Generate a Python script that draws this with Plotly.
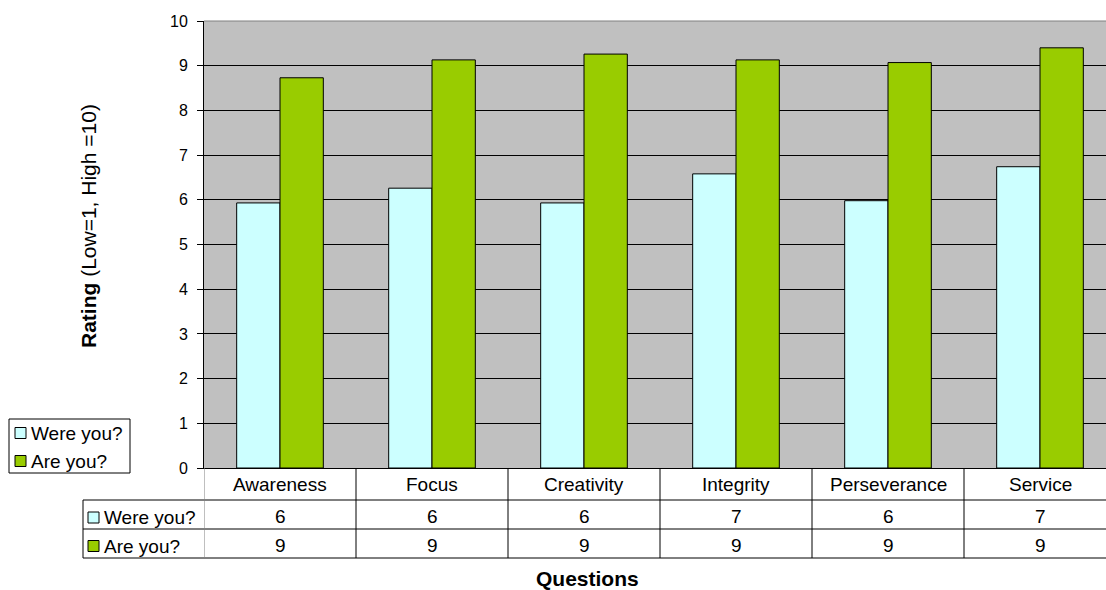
import plotly.graph_objects as go

# ---- data ----
categories = ["Awareness", "Focus", "Creativity", "Integrity", "Perseverance", "Service"]
series_names = ["Were you?", "Are you?"]
were_you = [5.93, 6.26, 5.93, 6.58, 5.98, 6.74]
are_you = [8.73, 9.13, 9.26, 9.13, 9.07, 9.40]
y_ticks = list(range(0, 11))

# ---- style ----
FONT = "Arial, Liberation Sans, sans-serif"
C_WERE = "#CCFFFF"
C_ARE = "#99CC00"
W, H = 1106, 590
L, T, B = 204, 21, 468          # plot area pixel edges (right edge is the page edge)
PW, PH = W - L, B - T
TXT = 19


def px(xp):
    return (xp - L) / PW


def py(yp):
    return (B - yp) / PH


def note(x, y, text, xref="paper", xanchor="center", size=TXT, **kw):
    return dict(x=x, y=y, xref=xref, yref="paper", text=text, showarrow=False,
                xanchor=xanchor, yanchor="middle",
                font=dict(size=size, color="black", family=FONT), **kw)


fig = go.Figure()
fig.add_trace(go.Bar(x=categories, y=were_you, name=series_names[0],
                     marker=dict(color=C_WERE, line=dict(color="black", width=1)),
                     showlegend=False))
fig.add_trace(go.Bar(x=categories, y=are_you, name=series_names[1],
                     marker=dict(color=C_ARE, line=dict(color="black", width=1)),
                     showlegend=False))

shapes = []
annotations = []

# top border of plot area
shapes.append(dict(type="line", xref="paper", yref="paper", x0=0, x1=1, y0=1, y1=1,
                   line=dict(color="#808080", width=1)))

# ---- data table ----
row_y = [468, 500, 529, 558]
x_left_tbl = 83
for yp in row_y[1:]:
    shapes.append(dict(type="line", xref="paper", yref="paper",
                       x0=px(x_left_tbl), x1=1, y0=py(yp), y1=py(yp),
                       line=dict(color="black", width=1)))
shapes.append(dict(type="line", xref="paper", yref="paper",
                   x0=px(x_left_tbl), x1=px(x_left_tbl), y0=py(500), y1=py(558),
                   line=dict(color="black", width=1)))
n = len(categories)
for i in range(n + 1):
    xv = i - 0.5
    shapes.append(dict(type="line", xref="x", yref="paper",
                       x0=xv, x1=xv, y0=py(468), y1=py(558),
                       line=dict(color="#808080" if i == 0 else "black", width=1)))

for i, c in enumerate(categories):
    annotations.append(note(i, py(484), c, xref="x"))
    annotations.append(note(i, py(516.5), str(int(round(were_you[i]))), xref="x"))
    annotations.append(note(i, py(545), str(int(round(are_you[i]))), xref="x"))

for name, col, yc in [(series_names[0], C_WERE, 517.5), (series_names[1], C_ARE, 546)]:
    shapes.append(dict(type="rect", xref="paper", yref="paper",
                       x0=px(88), x1=px(99), y0=py(yc - 5.5), y1=py(yc + 5.5),
                       fillcolor=col, line=dict(color="black", width=1)))
    annotations.append(note(px(102), py(yc), name, xanchor="left"))

# ---- legend box ----
shapes.append(dict(type="rect", xref="paper", yref="paper",
                   x0=px(9), x1=px(130), y0=py(419), y1=py(473),
                   fillcolor="white", line=dict(color="black", width=1)))
for name, col, yc in [(series_names[0], C_WERE, 433), (series_names[1], C_ARE, 461)]:
    shapes.append(dict(type="rect", xref="paper", yref="paper",
                       x0=px(15), x1=px(26), y0=py(yc - 5.5), y1=py(yc + 5.5),
                       fillcolor=col, line=dict(color="black", width=1)))
    annotations.append(note(px(29), py(yc), name, xanchor="left"))

# ---- axis titles ----
annotations.append(note(px(88), py(226), "<b>Rating</b> (Low=1, High =10)",
                        size=21, textangle=-90))
annotations.append(note(px(587), py(578), "<b>Questions</b>", size=21))

fig.update_layout(
    width=W, height=H,
    margin=dict(l=L, r=0, t=T, b=H - B, pad=0),
    paper_bgcolor="white",
    plot_bgcolor="#C0C0C0",
    barmode="group",
    bargap=0.43,
    bargroupgap=0,
    font=dict(family=FONT, color="black"),
    shapes=shapes,
    annotations=annotations,
)
fig.update_xaxes(type="category", range=[-0.5, -0.5 + PW / 152.0],
                 showticklabels=False, ticks="", showgrid=False,
                 showline=True, linecolor="black", linewidth=1, zeroline=False)
fig.update_yaxes(range=[0, 10], tickvals=y_ticks, ticks="outside", ticklen=6,
                 tickcolor="black", tickfont=dict(size=16, color="black", family=FONT),
                 showgrid=True, gridcolor="black", gridwidth=1,
                 showline=True, linecolor="black", linewidth=1, zeroline=False,
                 ticklabelstandoff=6)

fig.write_html("out.html")
